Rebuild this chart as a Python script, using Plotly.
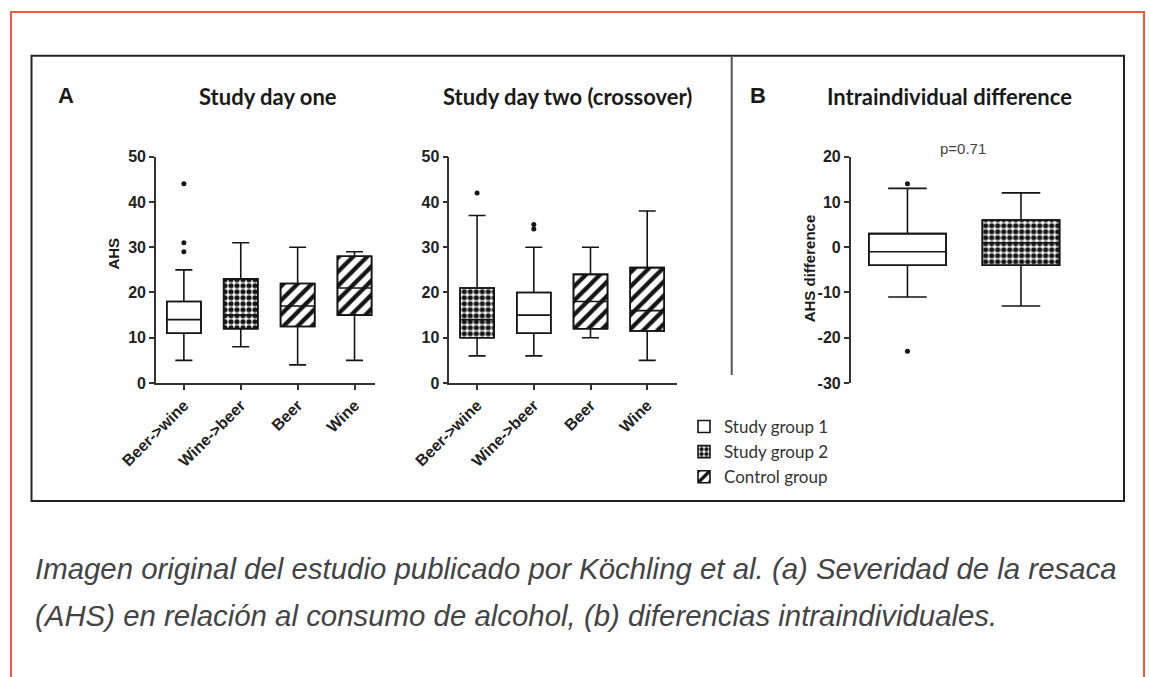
import plotly.graph_objects as go

W, H = 1149, 677

# ---------------- data ----------------
categories = ["Beer->wine", "Wine->beer", "Beer", "Wine"]

day1_groups = ["Study group 1", "Study group 2", "Control group", "Control group"]
day1_low = [5, 8, 4, 5]
day1_q1 = [11, 12, 12.5, 15]
day1_median = [14, 15, 17, 21]
day1_q3 = [18, 23, 22, 28]
day1_high = [25, 31, 30, 29]
day1_outliers = [[29, 31, 44], [], [], []]

day2_groups = ["Study group 2", "Study group 1", "Control group", "Control group"]
day2_low = [6, 6, 10, 5]
day2_q1 = [10, 11, 12, 11.5]
day2_median = [14, 15, 18, 16]
day2_q3 = [21, 20, 24, 25.5]
day2_high = [37, 30, 30, 38]
day2_outliers = [[42], [34, 35], [], []]

diff_groups = ["Study group 1", "Study group 2"]
diff_low = [-11, -13]
diff_q1 = [-4, -4]
diff_median = [-1, 1]
diff_q3 = [3, 6]
diff_high = [13, 12]
diff_outliers = [[14, -23], []]

group_names = ["Study group 1", "Study group 2", "Control group"]
ahs_ticks = [0, 10, 20, 30, 40, 50]
diff_ticks = [-30, -20, -10, 0, 10, 20]
diff_ticktext = ["-30", "-20", "-10", "0", "10", "20"]
p_value_text = "p=0.71"

# ---------------- styles ----------------
INK = "#151515"
AXIS = "#333333"
group_style = {
    "Study group 1": dict(shape=""),
    "Study group 2": dict(shape=".", size=6, solidity=0.6, fgcolor=INK, bgcolor="white", fillmode="replace"),
    "Control group": dict(shape="/", size=10, solidity=0.42, fgcolor=INK, bgcolor="white", fillmode="replace"),
}

fig = go.Figure()
legend_done = set()


def add_panel(xa, ya, groups, low, q1, med, q3, high, outliers, width, whisk):
    n = len(groups)
    xs = list(range(n))
    for g in group_names:
        idx = [i for i in xs if groups[i] == g]
        if not idx:
            continue
        fig.add_trace(go.Bar(
            x=idx,
            y=[q3[i] - q1[i] for i in idx],
            base=[q1[i] for i in idx],
            width=width,
            marker=dict(color="white", line=dict(color=INK, width=1.6), pattern=group_style[g]),
            name=g,
            showlegend=g not in legend_done,
            legendrank={"Study group 1": 1, "Study group 2": 2, "Control group": 3}[g],
            xaxis=xa, yaxis=ya, hoverinfo="skip",
        ))
        legend_done.add(g)
    fig.add_trace(go.Box(
        x=xs, q1=q1, median=med, q3=q3, lowerfence=low, upperfence=high,
        width=width, whiskerwidth=whisk, boxpoints=False,
        line=dict(color=INK, width=1.6), fillcolor="rgba(0,0,0,0)",
        showlegend=False, xaxis=xa, yaxis=ya, hoverinfo="skip",
    ))
    ox, oy = [], []
    for i in xs:
        for v in outliers[i]:
            ox.append(i)
            oy.append(v)
    if ox:
        fig.add_trace(go.Scatter(
            x=ox, y=oy, mode="markers",
            marker=dict(symbol="circle", size=5, color=INK),
            showlegend=False, xaxis=xa, yaxis=ya, hoverinfo="skip",
        ))


add_panel("x", "y", day1_groups, day1_low, day1_q1, day1_median, day1_q3, day1_high, day1_outliers, 0.6, 0.5)
add_panel("x2", "y2", day2_groups, day2_low, day2_q1, day2_median, day2_q3, day2_high, day2_outliers, 0.6, 0.5)
add_panel("x3", "y3", diff_groups, diff_low, diff_q1, diff_median, diff_q3, diff_high, diff_outliers, 0.68, 0.5)

tickfont = dict(family="Liberation Sans", size=16, color="#222", weight="bold")
ydom = [1 - 383 / H, 1 - 156.7 / H]

xcommon = dict(showgrid=False, zeroline=False, showline=True, linecolor=AXIS, linewidth=1.6,
               ticks="outside", ticklen=5, tickwidth=1.6, tickcolor=AXIS, automargin=False,
               tickvals=[0, 1, 2, 3], ticktext=categories, tickangle=-45, tickfont=tickfont)
ycommon = dict(showgrid=False, zeroline=False, showline=True, linecolor=AXIS, linewidth=1.6,
               ticks="outside", ticklen=5, tickwidth=1.6, tickcolor=AXIS, tickfont=tickfont,
               automargin=False, domain=ydom)

fig.update_layout(
    width=W, height=H,
    margin=dict(l=0, r=0, t=0, b=0, pad=0, autoexpand=False),
    paper_bgcolor="white", plot_bgcolor="rgba(0,0,0,0)",
    barmode="overlay", boxmode="overlay",
    xaxis=dict(domain=[156 / W, 375 / W], range=[-0.49, 3.36], anchor="y", **xcommon),
    yaxis=dict(range=[0, 50], tickvals=ahs_ticks, anchor="x", **ycommon),
    xaxis2=dict(domain=[449.3 / W, 676.7 / W], range=[-0.49, 3.52], anchor="y2", **xcommon),
    yaxis2=dict(range=[0, 50], tickvals=ahs_ticks, anchor="x2", **ycommon),
    xaxis3=dict(domain=[850.7 / W, 1080 / W], range=[-0.5, 1.52], anchor="y3", automargin=False,
                showgrid=False, zeroline=False, showline=False, showticklabels=False, ticks=""),
    yaxis3=dict(range=[-30, 20], tickvals=diff_ticks, ticktext=diff_ticktext, anchor="x3", **ycommon),
    legend=dict(x=684 / W, y=1 - 409 / H, xanchor="left", yanchor="top",
                font=dict(family="Lato", size=17, color="#333"),
                bgcolor="rgba(0,0,0,0)", tracegroupgap=0, itemclick=False),
    showlegend=True,
)

ann = []
def text(x, y, s, size, family="Lato", color="#1a1a1a", angle=0, xanchor="center", bold=False, italic=False):
    ann.append(dict(x=x / W, y=1 - y / H, xref="paper", yref="paper", text=s, showarrow=False,
                    xanchor=xanchor, yanchor="middle", textangle=angle,
                    font=dict(family=family, size=size, color=color,
                              weight="bold" if bold else "normal",
                              style="italic" if italic else "normal")))

text(66, 95, "A", 22, family="Liberation Sans", bold=True)
text(267.5, 96, "Study day one", 22, bold=True)
text(567.7, 96, "Study day two (crossover)", 22, bold=True)
text(757.5, 95, "B", 22, family="Liberation Sans", bold=True)
text(950, 96, "Intraindividual difference", 22, bold=True)
text(113.3, 253.3, "AHS", 15, family="Liberation Sans", angle=-90, bold=True)
text(809, 268.3, "AHS difference", 15, family="Liberation Sans", angle=-90, bold=True)
text(963.3, 148.3, p_value_text, 15, family="Liberation Sans", color="#444")
text(33, 568, "Imagen original del estudio publicado por Köchling et al. (a) Severidad de la resaca",
     29.4, family="Liberation Sans", color="#444", xanchor="left", italic=True)
text(33, 615, "(AHS) en relación al consumo de alcohol, (b) diferencias intraindividuales.",
     29.4, family="Liberation Sans", color="#444", xanchor="left", italic=True)
fig.update_layout(annotations=ann)

shapes = [
    dict(type="path", xref="paper", yref="paper",
         path=f"M {11/W} 0 L {11/W} {1-12/H} L {1144/W} {1-12/H} L {1144/W} 0",
         line=dict(color="#f05a3c", width=2)),
    dict(type="rect", xref="paper", yref="paper", x0=31.5 / W, x1=1124 / W, y0=1 - 501 / H, y1=1 - 55.7 / H,
         line=dict(color="#222", width=2)),
    dict(type="line", xref="paper", yref="paper", x0=731.7 / W, x1=731.7 / W, y0=1 - 375 / H, y1=1 - 55.7 / H,
         line=dict(color="#555", width=2)),
]
fig.update_layout(shapes=shapes)

fig.write_html("out.html", post_script="document.body.style.margin='0';", config={"displayModeBar": False})
